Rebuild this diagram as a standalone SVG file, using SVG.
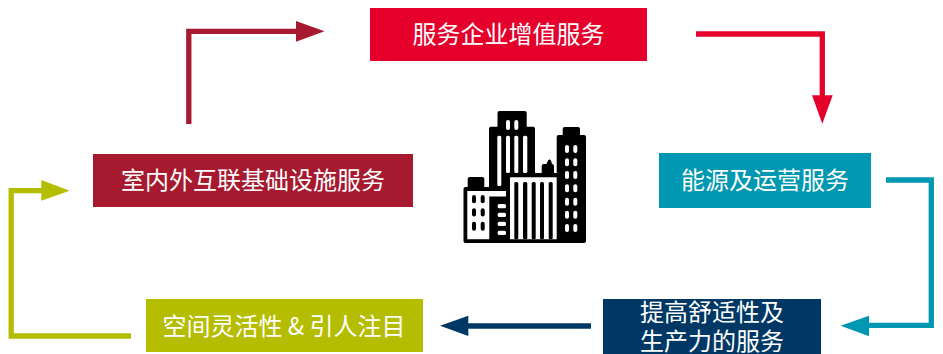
<svg xmlns="http://www.w3.org/2000/svg" width="943" height="354" viewBox="0 0 943 354">
<style>
.t{font-family:"Noto Sans CJK SC","Liberation Sans",sans-serif;font-size:24px;fill:#fff;text-anchor:middle}
.l{fill:none;stroke-width:5.300;stroke-linejoin:miter}
.w{fill:#fff}
</style>
<rect width="943" height="354" fill="#fff"/>
<g id="connectors">
<path class="l" stroke="#a6192e" d="M188.800 124V31.300H298"/><polygon fill="#a6192e" points="296,21 324.500,31.300 296,41.700"/>
<path class="l" stroke="#e4002b" d="M696 34H822.300V97"/><polygon fill="#e4002b" points="812,95.300 832.700,95.300 822.300,123.700"/>
<path class="l" stroke="#0097b2" d="M886 180H931.300V325.300H867"/><polygon fill="#0097b2" points="869,315.700 869,336.300 840.700,325.800"/>
<path class="l" stroke="#003865" d="M591 326H466"/><polygon fill="#003865" points="468.300,315.700 468.300,336 440,325.800"/>
<path class="l" stroke="#b5bd00" d="M131 336H11.200V190.700H43"/><polygon fill="#b5bd00" points="41.300,180 41.300,200.700 69.700,190.700"/>
</g>
<g id="node-enterprise"><rect x="370" y="8" width="277" height="53" fill="#e4002b"/><text class="t" x="508.500" y="42.500">服务企业增值服务</text></g>
<g id="node-energy"><rect x="659" y="153" width="212" height="55" fill="#0097b2"/><text class="t" x="765" y="189">能源及运营服务</text></g>
<g id="node-productivity"><rect x="603" y="299" width="218" height="55" fill="#003865"/><text class="t" x="712" y="321">提高舒适性及</text><text class="t" x="712" y="350">生产力的服务</text></g>
<g id="node-space"><rect x="146" y="299" width="277" height="53" fill="#b5bd00"/><text class="t" x="284" y="335">空间灵活性 &amp; 引人注目</text></g>
<g id="node-indoor"><rect x="93" y="154" width="320" height="53" fill="#a6192e"/><text class="t" x="253" y="189">室内外互联基础设施服务</text></g>
<g id="node-building">
<path d="M497.500 113a2 2 0 0 1 2-2H524.700a2 2 0 0 1 2 2V126.700H533a2 2 0 0 1 2 2V173H541.700V166a2 2 0 0 1 2-2H546.500L548 160.500L549.500 159.300L551 160.500L552 164H552a2 2 0 0 1 2 2V173H556.700V137a2 2 0 0 1 2-2H562.700V129a2 2 0 0 1 2-2H578a2 2 0 0 1 2 2V135H584a2 2 0 0 1 2 2V241a2 2 0 0 1-2 2H465.500a2 2 0 0 1-2-2V189a2 2 0 0 1 2-2H467.700V179a2 2 0 0 1 2-2H482.300a2 2 0 0 1 2 2V187H489V128.700a2 2 0 0 1 2-2H497.500z"/>
<g class="w">
<rect x="506" y="120" width="4" height="10" rx="2"/><rect x="514.300" y="120" width="4" height="10" rx="2"/>
<rect x="497.300" y="135.700" width="4" height="50.300" rx="1.500"/>
<rect x="506" y="135.700" width="4" height="37.300" rx="1.500"/><rect x="514.300" y="135.700" width="4" height="37.300" rx="1.500"/>
<rect x="523" y="135.700" width="4.300" height="37.300" rx="1.500"/>
<path d="M467.300 191H506V196.500H489.300V239.300H467.300z"/>
<path d="M510 177.300H556.700V239.300H510z"/>
<rect x="497.700" y="204" width="8.300" height="4.300" rx="1.500"/><rect x="497.700" y="212.700" width="8.300" height="4.300" rx="1.500"/><rect x="497.700" y="221.700" width="8.300" height="4.300" rx="1.500"/><rect x="497.700" y="230.700" width="8.300" height="4.300" rx="1.500"/>
<rect x="565" y="145" width="4" height="8" rx="2"/><rect x="573.300" y="145" width="4" height="8" rx="2"/>
<rect x="565" y="158.300" width="4" height="8" rx="2"/><rect x="573.300" y="158.300" width="4" height="8" rx="2"/>
<rect x="565" y="171" width="4" height="8" rx="2"/><rect x="573.300" y="171" width="4" height="8" rx="2"/>
<rect x="565" y="184.300" width="4" height="8" rx="2"/><rect x="573.300" y="184.300" width="4" height="8" rx="2"/>
<rect x="565" y="197.700" width="4" height="8" rx="2"/><rect x="573.300" y="197.700" width="4" height="8" rx="2"/>
<rect x="565" y="210.700" width="4" height="8" rx="2"/><rect x="573.300" y="210.700" width="4" height="8" rx="2"/>
<rect x="565" y="224" width="4" height="8" rx="2"/><rect x="573.300" y="224" width="4" height="8" rx="2"/>
</g>
<rect x="472" y="195" width="4" height="8.300" rx="2"/><rect x="480.700" y="195" width="4" height="8.300" rx="2"/>
<rect x="472" y="208.300" width="4" height="8.300" rx="2"/><rect x="480.700" y="208.300" width="4" height="8.300" rx="2"/>
<rect x="472" y="221.700" width="4" height="9" rx="2"/><rect x="480.700" y="221.700" width="4" height="9" rx="2"/>
<rect x="514.300" y="182" width="4" height="57.300" rx="1.500"/><rect x="523" y="182" width="4.300" height="57.300" rx="1.500"/><rect x="531.700" y="182" width="4" height="57.300" rx="1.500"/><rect x="540" y="182" width="4" height="57.300" rx="1.500"/><rect x="548.700" y="182" width="4" height="57.300" rx="1.500"/>
</g>
</svg>
